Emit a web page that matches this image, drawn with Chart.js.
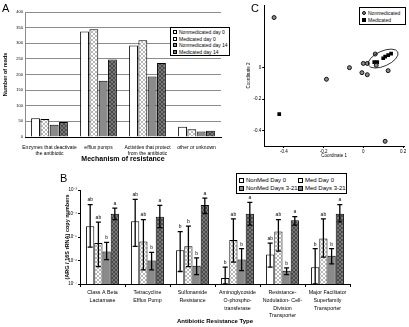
<!DOCTYPE html>
<html>
<head>
<meta charset="utf-8">
<script src="https://cdn.jsdelivr.net/npm/chart.js@4.4.0/dist/chart.umd.min.js"></script>
<style>
body{margin:0;background:#fff;font-family:"Liberation Sans",Arial,sans-serif}
#page{position:relative;width:409px;height:327px;overflow:hidden;background:#fff}
.pane{position:absolute}
.letter{position:absolute;font-size:11px;line-height:11px;color:#000}
.legend{position:absolute;border:1px solid #000;background:#fff;color:#000;box-sizing:border-box}
.legend .row{display:flex;align-items:center;white-space:nowrap}
.sw{display:inline-block;border:1px solid #000;box-sizing:border-box;margin-right:2px;flex:none}
.white{background:#fff}
.hatch{background:repeating-linear-gradient(45deg,#999 0 0.6px,transparent 0.6px 2.2px),repeating-linear-gradient(-45deg,#999 0 0.6px,#fff 0.6px 2.2px)}
.grey{background:#8a8a8a}
.dhatch{background:repeating-linear-gradient(45deg,#333 0 0.6px,transparent 0.6px 2.2px),repeating-linear-gradient(-45deg,#333 0 0.6px,#777 0.6px 2.2px)}
</style>
</head>
<body>
<div id="page">
  <div class="pane" style="left:0;top:0;width:245px;height:168px"><canvas id="chartA" width="245" height="168"></canvas></div>
  <div class="pane" style="left:245px;top:0;width:164px;height:166px"><canvas id="chartC" width="164" height="166"></canvas></div>
  <div class="pane" style="left:0;top:170px;width:409px;height:157px"><canvas id="chartB" width="409" height="157"></canvas></div>

  <div class="letter" style="left:2px;top:3px">A</div>
  <div class="letter" style="left:251px;top:3px">C</div>
  <div class="letter" style="left:60px;top:173px">B</div>

  <div class="legend" style="left:170px;top:27px;width:60px;height:29px;font-size:5px;padding:1px 2px">
    <div class="row" style="height:6.6px"><span class="sw white" style="width:4px;height:4px"></span>Nonmedicated day 0</div>
    <div class="row" style="height:6.6px"><span class="sw hatch" style="width:4px;height:4px"></span>Medicated day 0</div>
    <div class="row" style="height:6.6px"><span class="sw grey" style="width:4px;height:4px"></span>Nonmedicated day 14</div>
    <div class="row" style="height:6.6px"><span class="sw dhatch" style="width:4px;height:4px"></span>Medicated day 14</div>
  </div>

  <div class="legend" style="left:359px;top:7px;width:47px;height:18px;font-size:5px;padding:1px 2px">
    <div class="row" style="height:7px"><span style="display:inline-block;width:4px;height:4px;border-radius:50%;background:#888;border:1px solid #111;box-sizing:border-box;margin-right:2px"></span>Nonmedicated</div>
    <div class="row" style="height:7px"><span style="display:inline-block;width:4px;height:4px;background:#000;margin-right:2px"></span>Medicated</div>
  </div>

  <div class="legend" style="left:236px;top:173px;width:111px;height:21px;font-size:6px;padding:2px 2px;display:grid;grid-template-columns:59px 50px">
    <div class="row" style="height:8px"><span class="sw white" style="width:5px;height:5px"></span>NonMed Day 0</div>
    <div class="row" style="height:8px"><span class="sw hatch" style="width:5px;height:5px"></span>Med Day 0</div>
    <div class="row" style="height:8px"><span class="sw grey" style="width:5px;height:5px"></span>NonMed Days 3-21</div>
    <div class="row" style="height:8px"><span class="sw dhatch" style="width:5px;height:5px"></span>Med Days 3-21</div>
  </div>
</div>

<script>
// ---- panel A: reads per resistance mechanism
const mechLabels = [['Enzymes that deactivate', 'the antibiotic'], 'efflux pumps', ['Activities that protect', 'from the antibiotic'], 'other or unknown'];
const nonmedDay0 = [60, 338, 293, 33];
const medDay0 = [58, 345, 310, 25];
const nonmedDay14 = [39, 180, 194, 18];
const medDay14 = [48, 248, 237, 20];

// ---- panel B: ARG / 16S rRNA copy numbers (log scale)
const argLabels = [['Class A Beta', 'Lactamase'], ['Tetracycline', 'Efflux Pump'], ['Sulfonamide', 'Resistance'],
    ['Aminoglycoside', 'O-phospho-', 'transferase'], ['Resistance-', 'Nodulation- Cell-', 'Division', 'Transporter'],
    ['Major Facilitator', 'Superfamily', 'Transporter']];
const logTicks = [1e-7, 1e-6, 1e-5, 1e-4, 1e-3];

const nonMedD0 = [2.9e-5, 4.7e-5, 2.7e-6, 1.8e-7, 1.8e-6, 5.2e-7];
const nonMedD0Hi = [2.4e-4, 4e-4, 1.7e-5, 5.2e-7, 5.5e-6, 3.2e-6];
const nonMedD0Lo = [3.7e-6, 4e-6, 3.4e-7, 1e-7, 5.2e-7, 1e-7];
const nonMedD0Sig = ['ab', 'ab', 'b', 'b', 'ab', 'b'];

const medD0 = [5.5e-6, 6.5e-6, 4e-6, 7.4e-6, 1.7e-5, 8.7e-6];
const medD0Hi = [4.3e-5, 5.5e-5, 2.9e-5, 5.9e-5, 5.5e-5, 5.9e-5];
const medD0Lo = [5.5e-7, 4e-7, 5.5e-7, 8.5e-7, 2.5e-6, 1.4e-6];
const medD0Sig = ['ab', 'ab', 'b', 'ab', 'ab', 'ab'];

const nonMedD321 = [2.4e-6, 1e-6, 6e-7, 1.1e-6, 3.7e-7, 1.6e-6];
const nonMedD321Hi = [5.9e-6, 2.2e-6, 1.3e-6, 3.2e-6, 4.9e-7, 3.2e-6];
const nonMedD321Lo = [1.1e-6, 4e-7, 2.5e-7, 3.7e-7, 2.5e-7, 7.2e-7];
const nonMedD321Sig = ['b', 'b', 'b', 'b', 'b', 'b'];

const medD321 = [9.7e-5, 7.2e-5, 2.3e-4, 9.7e-5, 5.1e-5, 9.7e-5];
const medD321Hi = [1.7e-4, 2.2e-4, 4.5e-4, 3e-4, 7.4e-5, 2.4e-4];
const medD321Lo = [5.5e-5, 2.5e-5, 1e-4, 3.2e-5, 3.2e-5, 4.4e-5];
const medD321Sig = ['a', 'a', 'a', 'a', 'a', 'a'];

// ---- panel C: PCoA
const coordTicks = [-0.4, -0.2, 0, 0.2];
const nonmedX = [-0.45, -0.186, -0.07, 0.0, 0.02, -0.007, 0.02, 0.06, 0.065, 0.125, 0.11];
const nonmedY = [0.32, -0.074, 0.0, 0.027, 0.027, -0.032, -0.045, 0.087, 0.015, -0.019, -0.47];
const medX = [-0.424, 0.055, 0.07, 0.1, 0.11, 0.125, 0.14];
const medY = [-0.296, 0.035, 0.035, 0.06, 0.07, 0.08, 0.09];
const clusterCentre = [0.1, 0.058];


const FONT = '"Liberation Sans", Arial, sans-serif';
Chart.defaults.font.family = FONT;
Chart.defaults.color = '#000';
Chart.defaults.animation = false;

function hatch(bg, line) {
    var c = document.createElement('canvas');
    c.width = 4; c.height = 4;
    var x = c.getContext('2d');
    x.fillStyle = bg;
    x.fillRect(0, 0, 4, 4);
    x.strokeStyle = line;
    x.lineWidth = 0.7;
    x.beginPath();
    x.moveTo(0, 0); x.lineTo(4, 4);
    x.moveTo(4, 0); x.lineTo(0, 4);
    x.stroke();
    return x.createPattern(c, 'repeat');
}

var fillWhite = '#ffffff';
var fillHatch = hatch('#ffffff', '#9a9a9a');
var fillGrey = '#8a8a8a';
var fillDark = hatch('#787878', '#333333');

// ---------- A
new Chart(document.getElementById('chartA'), {
    type: 'bar',
    data: {
        labels: mechLabels,
        datasets: [
            { label: 'Nonmedicated day 0', data: nonmedDay0, backgroundColor: fillWhite },
            { label: 'Medicated day 0', data: medDay0, backgroundColor: fillHatch },
            { label: 'Nonmedicated day 14', data: nonmedDay14, backgroundColor: fillGrey },
            { label: 'Medicated day 14', data: medDay14, backgroundColor: fillDark }
        ].map(d => Object.assign(d, { borderColor: '#000', borderWidth: 1, barPercentage: 0.95, categoryPercentage: 0.76 }))
    },
    options: {
        responsive: false,
        layout: { padding: { left: 2, right: 24, top: 12, bottom: 1 } },
        plugins: { legend: { display: false }, tooltip: { enabled: false } },
        scales: {
            y: {
                min: 0, max: 400,
                afterFit: function (s) { s.width = 23; },
                ticks: { stepSize: 50, font: { size: 4 }, padding: 2 },
                grid: { color: '#8c8c8c', lineWidth: 1, drawTicks: false },
                border: { color: '#8c8c8c' },
                title: { display: true, text: 'Number of reads', font: { size: 5.5, weight: 'bold' }, padding: 0 }
            },
            x: {
                afterFit: function (s) { s.height = 30; },
                ticks: { font: { size: 5, lineHeight: 1.2 }, maxRotation: 0, autoSkip: false, padding: 0 },
                grid: { display: false },
                border: { color: '#000' },
                title: { display: true, text: 'Mechanism of resistance', font: { size: 7, weight: 'bold' }, padding: { top: 0, bottom: 4 } }
            }
        }
    }
});

// ---------- B
var errorBars = {
    id: 'errorBars',
    afterDatasetsDraw(chart) {
        var ctx = chart.ctx, ys = chart.scales.y;
        chart.data.datasets.forEach(function (ds, i) {
            chart.getDatasetMeta(i).data.forEach(function (bar, j) {
                var top = ys.getPixelForValue(ds.errHigh[j]);
                var bot = Math.min(ys.getPixelForValue(ds.errLow[j]), ys.bottom);
                ctx.save();
                ctx.strokeStyle = '#000';
                ctx.lineWidth = 1.3;
                ctx.beginPath();
                ctx.moveTo(bar.x, top); ctx.lineTo(bar.x, bot);
                ctx.moveTo(bar.x - 2.5, top); ctx.lineTo(bar.x + 2.5, top);
                ctx.moveTo(bar.x - 2.5, bot); ctx.lineTo(bar.x + 2.5, bot);
                ctx.stroke();
                ctx.fillStyle = '#000';
                ctx.font = '5px ' + FONT;
                ctx.textAlign = 'center';
                ctx.textBaseline = 'bottom';
                ctx.fillText(ds.sig[j], bar.x, top - 2);
                ctx.restore();
            });
        });
    }
};

var sup = { '-': '\u207b', '0': '\u2070', '1': '\u00b9', '2': '\u00b2', '3': '\u00b3', '4': '\u2074', '5': '\u2075', '6': '\u2076', '7': '\u2077', '8': '\u2078', '9': '\u2079' };

new Chart(document.getElementById('chartB'), {
    type: 'bar',
    data: {
        labels: argLabels,
        datasets: [
            { label: 'NonMed Day 0', data: nonMedD0, errHigh: nonMedD0Hi, errLow: nonMedD0Lo, sig: nonMedD0Sig, backgroundColor: fillWhite },
            { label: 'Med Day 0', data: medD0, errHigh: medD0Hi, errLow: medD0Lo, sig: medD0Sig, backgroundColor: fillHatch },
            { label: 'NonMed Days 3-21', data: nonMedD321, errHigh: nonMedD321Hi, errLow: nonMedD321Lo, sig: nonMedD321Sig, backgroundColor: fillGrey },
            { label: 'Med Days 3-21', data: medD321, errHigh: medD321Hi, errLow: medD321Lo, sig: medD321Sig, backgroundColor: fillDark }
        ].map(d => Object.assign(d, { borderColor: '#000', borderWidth: 1, barPercentage: 1, categoryPercentage: 0.73 }))
    },
    options: {
        responsive: false,
        layout: { padding: { left: 64, right: 59, top: 20, bottom: 1 } },
        plugins: { legend: { display: false }, tooltip: { enabled: false } },
        scales: {
            y: {
                type: 'logarithmic',
                min: 1e-7, max: 1e-3,
                afterFit: function (s) { s.width = 16; },
                afterBuildTicks: function (s) { s.ticks = logTicks.map(v => ({ value: v })); },
                ticks: {
                    font: { size: 4.5 }, padding: 1,
                    callback: function (v) { return '10' + String(Math.round(Math.log10(v))).split('').map(c => sup[c]).join(''); }
                },
                grid: { drawOnChartArea: false, tickLength: 2, color: '#000' },
                border: { color: '#000' },
                title: { display: true, text: '(ARG / 16S rRNA) copy numbers', font: { size: 5.5, weight: 'bold' }, padding: 0 }
            },
            x: {
                afterFit: function (s) { s.height = 42; },
                ticks: { font: { size: 5.3, lineHeight: 1.45 }, maxRotation: 0, autoSkip: false, padding: 2 },
                grid: { drawOnChartArea: false, offset: true, tickLength: 3, color: '#000' },
                border: { color: '#000' },
                title: { display: true, text: 'Antibiotic Resistance Type', font: { size: 6, weight: 'bold' }, padding: { top: 0, bottom: 1 } }
            }
        }
    },
    plugins: [errorBars]
});

// ---------- C
var ellipse = {
    id: 'ellipse',
    afterDatasetsDraw(chart) {
        var xs = chart.scales.x, ys = chart.scales.y, ctx = chart.ctx;
        var cx = xs.getPixelForValue(clusterCentre[0]);
        var cy = ys.getPixelForValue(clusterCentre[1]);
        ctx.save();
        ctx.strokeStyle = '#000';
        ctx.lineWidth = 0.8;
        ctx.beginPath();
        ctx.ellipse(cx, cy, 16, 7.5, -0.42, 0, Math.PI * 2);
        ctx.stroke();
        ctx.restore();
    }
};

new Chart(document.getElementById('chartC'), {
    type: 'scatter',
    data: {
        datasets: [
            {
                label: 'Nonmedicated',
                data: nonmedX.map((x, i) => ({ x: x, y: nonmedY[i] })),
                pointStyle: 'circle', pointRadius: 2, backgroundColor: '#8a8a8a', borderColor: '#111', borderWidth: 1
            },
            {
                label: 'Medicated',
                data: medX.map((x, i) => ({ x: x, y: medY[i] })),
                pointStyle: 'rect', pointRadius: 2.6, backgroundColor: '#000', borderColor: '#000', borderWidth: 0
            }
        ]
    },
    options: {
        responsive: false,
        layout: { padding: { left: 0, right: 3, top: 4, bottom: 8 } },
        plugins: { legend: { display: false }, tooltip: { enabled: false } },
        scales: {
            x: {
                min: -0.5, max: 0.205,
                afterFit: function (s) { s.height = 12; },
                afterBuildTicks: function (s) { s.ticks = coordTicks.map(v => ({ value: v })); },
                ticks: { font: { size: 4.5 }, padding: 1, callback: v => String(v) },
                grid: { drawOnChartArea: false, tickLength: 2, color: '#000' },
                border: { color: '#000', width: 1 },
                title: { display: true, text: 'Coordinate 1', font: { size: 4.5 }, padding: 0 }
            },
            y: {
                min: -0.5, max: 0.4,
                afterBuildTicks: function (s) { s.ticks = coordTicks.slice(0, 3).map(v => ({ value: v })); },
                ticks: { font: { size: 4.5 }, padding: 1, callback: v => String(v) },
                grid: { drawOnChartArea: false, tickLength: 2, color: '#000' },
                border: { color: '#000', width: 1 },
                title: { display: true, text: 'Coordinate 2', font: { size: 4.5 }, padding: 1 }
            }
        }
    },
    plugins: [ellipse]
});
</script>
</body>
</html>
